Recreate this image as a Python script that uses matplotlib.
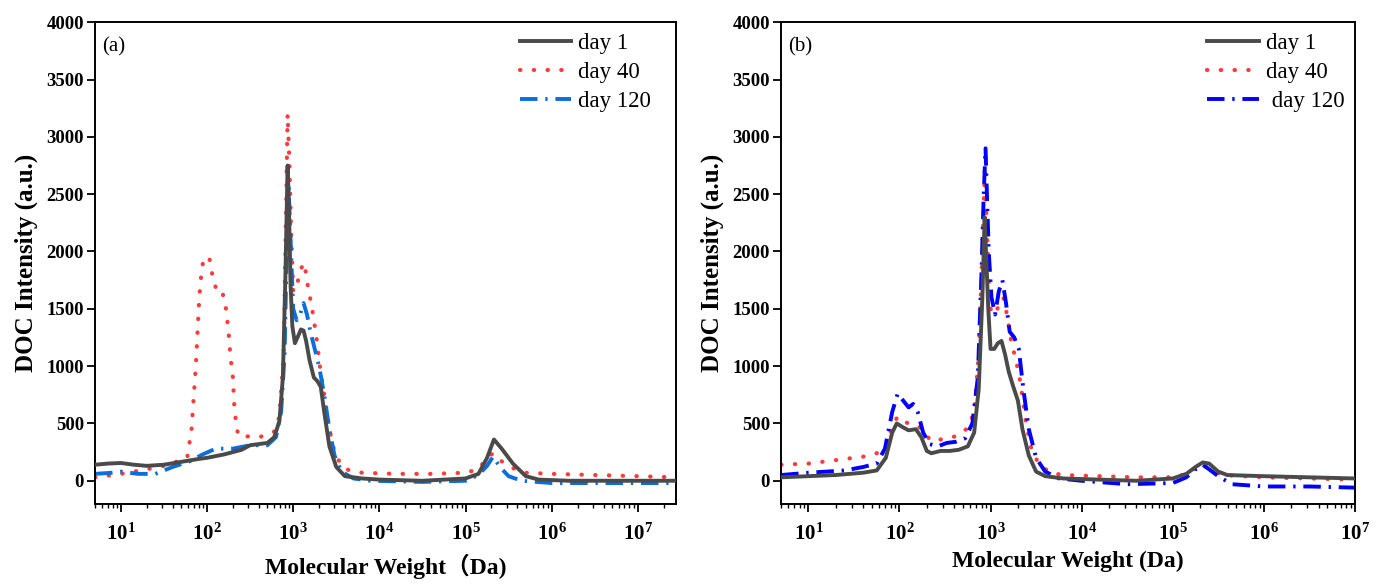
import numpy as np
import matplotlib
matplotlib.use("Agg")
import matplotlib.pyplot as plt

plt.rcParams['font.family'] = ['Liberation Serif', 'Noto Sans CJK SC']
plt.rcParams['mathtext.fontset'] = 'custom'
plt.rcParams['mathtext.rm'] = 'Liberation Serif'
plt.rcParams['mathtext.bf'] = 'Liberation Serif:bold'

# ---------------- Panel (a) data (log10 of molecular weight, intensity) ----------------
a_day1_logmw = [0.70, 0.85, 1.0, 1.15, 1.3, 1.5, 1.7, 1.9, 2.0, 2.2, 2.4, 2.5, 2.6, 2.7, 2.78,
                2.84, 2.88, 2.91, 2.935, 2.95, 2.97, 2.99, 3.02, 3.05, 3.09, 3.12, 3.15, 3.19,
                3.24, 3.28, 3.32, 3.36, 3.42, 3.5, 3.6, 3.8, 4.0, 4.5, 5.0, 5.15, 5.25, 5.33,
                5.42, 5.55, 5.7, 5.85, 6.2, 6.6, 7.0, 7.44]
a_day1_val = [140, 150, 155, 140, 130, 140, 165, 190, 200, 230, 270, 310, 320, 330, 380,
              520, 900, 1800, 2750, 2400, 1700, 1350, 1200, 1250, 1320, 1310, 1220, 1050,
              900, 870, 820, 600, 300, 120, 40, 20, 10, 0, 20, 60, 200, 360,
              280, 150, 40, 10, 0, 0, 0, 0]

a_day40_logmw = [0.70, 1.0, 1.3, 1.5, 1.7, 1.77, 1.82, 1.87, 1.91, 1.93, 1.96, 2.03, 2.07,
                 2.12, 2.18, 2.22, 2.25, 2.27, 2.30, 2.32, 2.36, 2.41, 2.5, 2.6, 2.7, 2.78,
                 2.84, 2.89, 2.935, 2.955, 2.975, 3.0, 3.04, 3.09, 3.13, 3.17, 3.22, 3.27,
                 3.31, 3.36, 3.42, 3.48, 3.56, 3.65, 3.8, 4.2, 4.6, 5.0, 5.15, 5.25, 5.32,
                 5.42, 5.55, 5.7, 6.0, 6.5, 7.0, 7.44]
a_day40_val = [30, 60, 100, 130, 180, 200, 450, 1000, 1600, 1770, 1950, 1930, 1760,
               1640, 1640, 1500, 1300, 1100, 900, 600, 400, 380, 390, 380, 400, 430,
               560, 1100, 3200, 2800, 2200, 1650, 1700, 1850, 1900, 1700, 1500, 1250,
               1000, 750, 450, 250, 130, 90, 70, 60, 60, 70, 100, 200, 240,
               170, 110, 70, 60, 50, 40, 30]

a_day120_logmw = [0.70, 0.9, 1.0, 1.2, 1.4, 1.6, 1.8, 1.95, 2.1, 2.3, 2.5, 2.7, 2.8, 2.86,
                  2.9, 2.925, 2.945, 2.96, 2.98, 3.0, 3.04, 3.08, 3.12, 3.16, 3.2, 3.25,
                  3.3, 3.36, 3.42, 3.48, 3.56, 3.7, 3.9, 4.5, 5.0, 5.15, 5.25, 5.32,
                  5.4, 5.5, 5.65, 6.0, 6.5, 7.0, 7.44]
a_day120_val = [60, 70, 80, 60, 60, 120, 170, 230, 280, 280, 310, 310, 380, 600,
                1100, 2000, 2600, 2300, 1900, 1500, 1400, 1450, 1550, 1450, 1300, 1150,
                1000, 750, 450, 220, 80, 20, 0, -10, 0, 50, 130, 210,
                120, 40, 0, -20, -20, -20, -20]

# ---------------- Panel (b) data ----------------
b_day1_logmw = [0.70, 1.0, 1.3, 1.6, 1.75, 1.85, 1.92, 1.97, 2.03, 2.1, 2.18, 2.24, 2.3,
                2.35, 2.45, 2.55, 2.65, 2.75, 2.82, 2.87, 2.91, 2.935, 2.955, 2.975,
                3.0, 3.04, 3.08, 3.12, 3.16, 3.2, 3.25, 3.3, 3.35, 3.42, 3.5, 3.6, 3.8,
                4.2, 4.6, 5.0, 5.15, 5.25, 5.33, 5.4, 5.5, 5.6, 6.0, 6.5, 7.0]
b_day1_val = [30, 40, 50, 70, 90, 200, 420, 500, 470, 440, 450, 380, 260,
              240, 260, 260, 270, 300, 420, 800, 1600, 2300, 1900, 1500,
              1150, 1150, 1200, 1220, 1100, 950, 820, 700, 450, 220, 80, 40, 20,
              10, 0, 20, 60, 120, 160, 150, 80, 50, 40, 30, 20]

b_day40_logmw = [0.70, 1.0, 1.3, 1.6, 1.75, 1.85, 1.92, 1.98, 2.05, 2.12, 2.2, 2.27,
                 2.34, 2.45, 2.55, 2.65, 2.75, 2.82, 2.87, 2.91, 2.935, 2.955, 2.975,
                 3.0, 3.05, 3.1, 3.14, 3.18, 3.23, 3.28, 3.33, 3.38, 3.44, 3.52, 3.65,
                 3.8, 4.2, 4.6, 5.0, 5.15, 5.25, 5.33, 5.42, 5.55, 6.0, 6.5, 7.0]
b_day40_val = [140, 150, 180, 210, 240, 300, 480, 560, 520, 490, 480, 430,
               350, 360, 370, 400, 460, 600, 1100, 2000, 2700, 2300, 1900,
               1500, 1450, 1550, 1600, 1450, 1200, 1050, 850, 550, 300, 160, 70,
               50, 40, 30, 30, 60, 110, 140, 90, 50, 30, 20, 10]

b_day120_logmw = [0.70, 1.0, 1.4, 1.6, 1.75, 1.84, 1.92, 1.98, 2.04, 2.1, 2.15, 2.2,
                  2.26, 2.33, 2.42, 2.52, 2.62, 2.72, 2.8, 2.86, 2.9, 2.925, 2.945,
                  2.96, 2.98, 3.01, 3.05, 3.09, 3.13, 3.17, 3.21, 3.26, 3.31, 3.36,
                  3.42, 3.5, 3.6, 3.75, 4.0, 4.5, 5.0, 5.15, 5.25, 5.33, 5.4, 5.5,
                  5.65, 6.0, 6.5, 7.0]
b_day120_val = [50, 70, 90, 120, 150, 280, 600, 760, 700, 640, 670, 600,
                420, 320, 300, 330, 340, 370, 500, 900, 1800, 2500, 2900,
                2500, 2000, 1600, 1450, 1650, 1750, 1550, 1300, 1250, 1150, 800,
                450, 200, 80, 20, 0, -30, -20, 30, 100, 140, 100, 40,
                -30, -50, -50, -60]

legend_labels_a = ['day 1', 'day 40', 'day 120']
legend_labels_b = ['day 1', 'day 40', ' day 120']
panel_tags = ['(a)', '(b)']
xlabels = ['Molecular Weight\uff08Da)', 'Molecular Weight (Da)']
ylabel = 'DOC Intensity (a.u.)'
yticks = [0, 500, 1000, 1500, 2000, 2500, 3000, 3500, 4000]
xticks_exp = [1, 2, 3, 4, 5, 6, 7]

fig = plt.figure(figsize=(13.86, 5.85), dpi=100)
ax_a = fig.add_axes([0.0685, 0.139, 0.419, 0.823])
ax_b = fig.add_axes([0.5635, 0.139, 0.414, 0.823])

gray = '#4a4a4a'
red = '#ff3b3b'

panels = [
    (ax_a, [(a_day1_logmw, a_day1_val), (a_day40_logmw, a_day40_val), (a_day120_logmw, a_day120_val)],
     '#0a6fdc', (5, 2.75e7), legend_labels_a, 0.975, 7),
    (ax_b, [(b_day1_logmw, b_day1_val), (b_day40_logmw, b_day40_val), (b_day120_logmw, b_day120_val)],
     '#0000ff', (5, 1e7), legend_labels_b, 1.0, 5),
]

for i, (ax, series, bluec, xl, labs, lx, xlpad) in enumerate(panels):
    (x1, y1), (x2, y2), (x3, y3) = series
    ax.plot(np.power(10.0, x1), y1, color=gray, lw=2.8, ls='-', label=labs[0], zorder=3)
    ax.plot(np.power(10.0, x2), y2, color=red, lw=3.0, ls=(0, (0.1, 3.2)), dash_capstyle='round',
            label=labs[1], zorder=2)
    ax.plot(np.power(10.0, x3), y3, color=bluec, lw=2.8, ls=(0, (4.5, 2, 0.6, 2)),
            label=labs[2], zorder=2)
    ax.set_xscale('log')
    ax.set_xlim(*xl)
    ax.set_ylim(-200, 4000)
    ax.set_yticks(yticks)
    ax.set_yticklabels([str(v) for v in yticks], fontweight='bold', fontsize=13.5)
    ax.set_xticks([10.0 ** e for e in xticks_exp])
    ax.set_xticklabels([r'$\mathbf{10^{%d}}$' % e for e in xticks_exp], fontsize=15)
    ax.tick_params(axis='both', which='major', direction='out', length=6, width=1.3)
    ax.tick_params(axis='x', which='minor', direction='out', length=3, width=1.0)
    ax.tick_params(axis='x', which='major', pad=8)
    ax.tick_params(axis='y', which='major', pad=2)
    for sp in ax.spines.values():
        sp.set_linewidth(1.4)
    ax.set_ylabel(ylabel, fontsize=18, fontweight='bold', labelpad=6)
    ax.set_xlabel(xlabels[i], fontsize=17, fontweight='bold', labelpad=xlpad)
    ax.text(0.012, 0.968, panel_tags[i], transform=ax.transAxes, fontsize=15, va='top', ha='left')
    ax.legend(loc='upper right', bbox_to_anchor=(lx, 1.0), frameon=False, fontsize=16.5,
              handlelength=2.25, borderaxespad=0.05, labelspacing=0.35, handletextpad=0.3)

fig.savefig('out.png', dpi=100)
